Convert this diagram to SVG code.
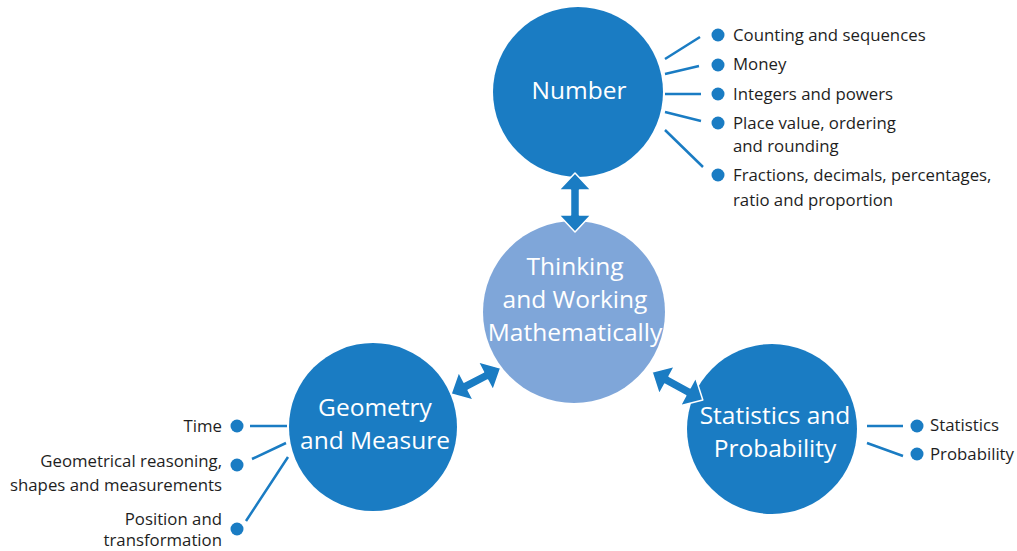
<svg xmlns="http://www.w3.org/2000/svg" width="1017" height="551" viewBox="0 0 1017 551">
<defs>
<style>
.c{fill:#1a7cc3}
.cl{fill:#7fa6d9}
.ct{font-family:"Open Sans","Noto Sans",sans-serif;font-size:24.5px;fill:#fff;text-anchor:middle}
.t{font-family:"Open Sans","Noto Sans",sans-serif;font-size:16.8px;fill:#1e1e1e}
.r{text-anchor:end}
.ln{stroke:#1a7cc3;stroke-width:2.5;fill:none}
.b{fill:#1a7cc3}
.ar{fill:#1a7cc3;stroke:#fff;stroke-width:1.5;stroke-linejoin:round}
</style>
</defs>
<rect width="1017" height="551" fill="#fff"/>
<g id="connectors">
<path class="ln" d="M665,59 L700,37 M665,74 L699,66 M665,94 L701,94 M665,112 L701,121 M665,130 L703,167"/>
<path class="ln" d="M250,426 L287,426 M252,459 L286,443 M246,521 L288,457"/>
<path class="ln" d="M867,426 L903,426 M867,443 L903,456"/>
</g>
<g id="node-number">
<circle class="c" cx="578" cy="92" r="85"/>
<text class="ct" x="579" y="99">Number</text>
</g>
<g id="node-center">
<circle class="cl" cx="574" cy="312" r="91"/>
<text class="ct" x="575" y="275">Thinking</text>
<text class="ct" x="575" y="308">and Working</text>
<text class="ct" x="575" y="341">Mathematically</text>
</g>
<g id="node-geometry">
<circle class="c" cx="373" cy="427" r="84"/>
<text class="ct" x="375" y="416">Geometry</text>
<text class="ct" x="375" y="449">and Measure</text>
</g>
<g id="node-statistics">
<circle class="c" cx="772" cy="429" r="85"/>
<text class="ct" x="775" y="424">Statistics and</text>
<text class="ct" x="775" y="457">Probability</text>
</g>
<g id="arrows">
<path class="ar" transform="translate(575,173) rotate(90)" d="M0,0 L17,-16 L17,-4.5 L42,-4.5 L42,-16 L59,0 L42,16 L42,4.5 L17,4.5 L17,16 Z"/>
<path class="ar" transform="translate(451,394) rotate(-27.5)" d="M0,0 L17,-16 L17,-4.5 L39,-4.5 L39,-16 L56,0 L39,16 L39,4.5 L17,4.5 L17,16 Z"/>
<path class="ar" transform="translate(652,372) rotate(28.8)" d="M0,0 L17,-16 L17,-4.5 L41,-4.5 L41,-16 L58,0 L41,16 L41,4.5 L17,4.5 L17,16 Z"/>
</g>
<g id="number-items">
<circle class="b" cx="718" cy="35" r="6.5"/>
<text class="t" x="733" y="41">Counting and sequences</text>
<circle class="b" cx="718" cy="65" r="6.5"/>
<text class="t" x="733" y="70">Money</text>
<circle class="b" cx="718" cy="94" r="6.5"/>
<text class="t" x="733" y="100">Integers and powers</text>
<circle class="b" cx="718" cy="123" r="6.5"/>
<text class="t" x="733" y="129">Place value, ordering</text>
<text class="t" x="733" y="152">and rounding</text>
<circle class="b" cx="718" cy="175" r="6.5"/>
<text class="t" x="733" y="181">Fractions, decimals, percentages,</text>
<text class="t" x="733" y="206">ratio and proportion</text>
</g>
<g id="geometry-items">
<circle class="b" cx="237" cy="426" r="6.5"/>
<text class="t r" x="222" y="432">Time</text>
<circle class="b" cx="237" cy="465" r="6.5"/>
<text class="t r" x="222" y="467">Geometrical reasoning,</text>
<text class="t r" x="222" y="491">shapes and measurements</text>
<circle class="b" cx="237" cy="529" r="6.5"/>
<text class="t r" x="222" y="525">Position and</text>
<text class="t r" x="222" y="546">transformation</text>
</g>
<g id="statistics-items">
<circle class="b" cx="917" cy="426" r="6.5"/>
<text class="t" x="930" y="431">Statistics</text>
<circle class="b" cx="917" cy="454" r="6.5"/>
<text class="t" x="930" y="460">Probability</text>
</g>
</svg>
